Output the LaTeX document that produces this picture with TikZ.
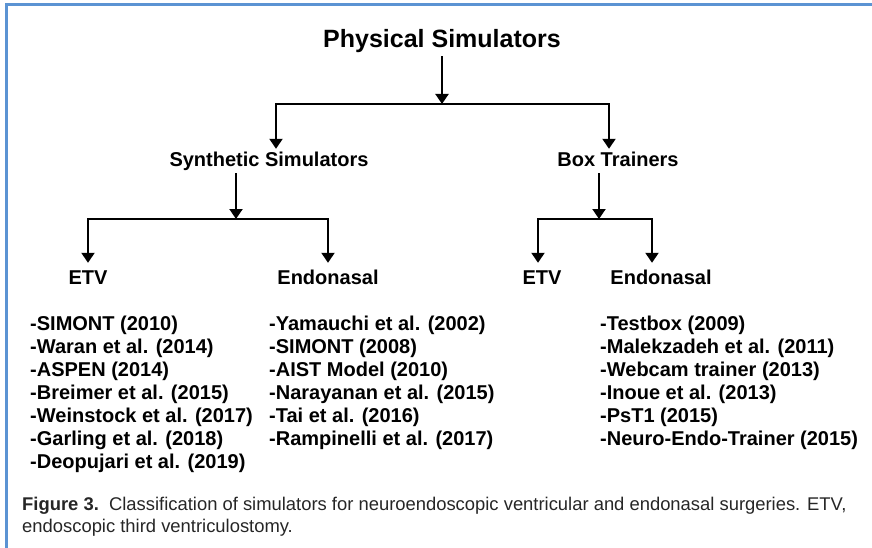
\documentclass[tikz,border=0pt]{standalone}
\usepackage{fontspec}
\setmainfont{Liberation Sans}
\usetikzlibrary{arrows.meta}
\definecolor{frameblue}{HTML}{5B93D3}

\begin{document}
\begin{tikzpicture}
  [x=1pt,y=-1pt,
   arr/.style={line width=2pt,-{Triangle[width=13pt,length=10pt]}},
   head/.style={font=\bfseries\fontsize{20}{24}\selectfont,inner sep=2pt,
                text height=14pt,text depth=4pt},
   item/.style={anchor=base west,inner sep=0pt,font=\bfseries\fontsize{20}{23}\selectfont}]
  \useasboundingbox (0,0) rectangle (872,548);
  \draw[frameblue,line width=3pt] (6,548) -- (6,5) -- (872,5);

  \node[font=\bfseries\fontsize{25}{30}\selectfont] (phys) at (442,41) {Physical Simulators};
  \node[head] (syn) at (269,162) {Synthetic Simulators};
  \node[head] (box) at (618,162) {Box Trainers};
  \node[head] (etvA)  at (88,279)  {ETV};
  \node[head] (endoA) at (328,279) {Endonasal};
  \node[head] (etvB)  at (542,279) {ETV};
  \node[head] (endoB) at (661,279) {Endonasal};

  \coordinate (j1) at (442,104);
  \coordinate (j2) at (236,219);
  \coordinate (j3) at (599,219);

  \draw[arr] (phys) -- (j1);
  \draw[arr,shorten >=2pt] (j1) -| ([xshift=7pt]syn.north);
  \draw[arr,shorten >=2pt] (j1) -| ([xshift=-9pt]box.north);

  \draw[arr] (syn.south -| j2) -- (j2);
  \draw[arr,shorten >=5pt] (j2) -| (etvA);
  \draw[arr,shorten >=5pt] (j2) -| (endoA);

  \draw[arr] (box.south -| j3) -- (j3);
  \draw[arr,shorten >=5pt] (j3) -| ([xshift=-4pt]etvB.north);
  \draw[arr,shorten >=5pt] (j3) -| ([xshift=-9pt]endoB.north);

  % lists of simulators
  \foreach \txt [count=\i] in {-SIMONT (2010),-Waran et al. (2014),-ASPEN (2014),
      -Breimer et al. (2015),-Weinstock et al. (2017),-Garling et al. (2018),
      -Deopujari et al. (2019)}
    \node[item] (etvA\i) at (30,330+23*\i-23) {\txt};
  \foreach \txt [count=\i] in {-Yamauchi et al. (2002),-SIMONT (2008),-AIST Model (2010),
      -Narayanan et al. (2015),-Tai et al. (2016),-Rampinelli et al. (2017)}
    \node[item] (endoA\i) at (269,330+23*\i-23) {\txt};
  \foreach \txt [count=\i] in {-Testbox (2009),-Malekzadeh et al. (2011),
      -Webcam trainer (2013),-Inoue et al. (2013),-PsT1 (2015),
      -Neuro-Endo-Trainer (2015)}
    \node[item] (endoB\i) at (600,330+23*\i-23) {\txt};

  \node[anchor=base west,align=left,inner sep=0pt,text=black!85,
        font=\fontsize{18.4}{22}\selectfont] (cap) at (22,532)
    {\textbf{Figure 3.}\ \ Classification of simulators for neuroendoscopic ventricular and endonasal surgeries. ETV,\\
     endoscopic third ventriculostomy.};
\end{tikzpicture}
\end{document}
